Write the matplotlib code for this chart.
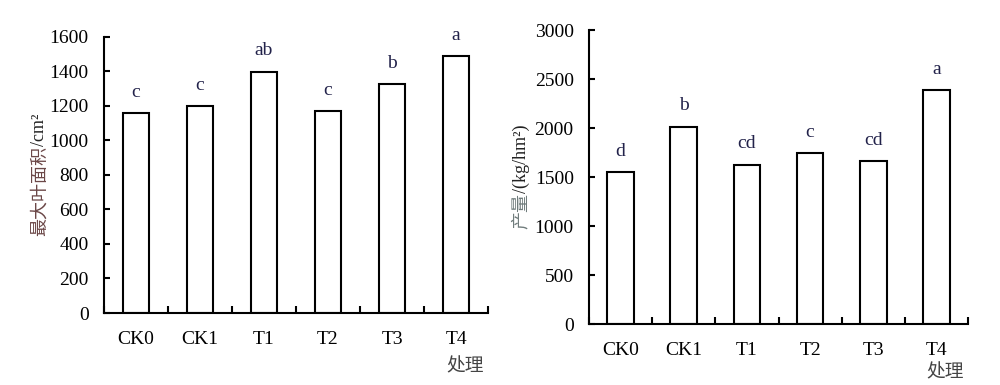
import matplotlib
matplotlib.use("Agg")
import matplotlib.pyplot as plt
import numpy as np

plt.rcParams['font.family'] = ['Liberation Serif', 'Noto Sans CJK SC']

# data
treatments = ['CK0', 'CK1', 'T1', 'T2', 'T3', 'T4']
leaf_area = [1160, 1198, 1398, 1170, 1326, 1490]
leaf_letters = ['c', 'c', 'ab', 'c', 'b', 'a']
yield_vals = [1548, 2013, 1628, 1742, 1663, 2388]
yield_letters = ['d', 'b', 'cd', 'c', 'cd', 'a']

letter_color = '#22224a'
fs = 14


def draw_panel(ax, values, letters, ymax, ystep):
    x = np.arange(len(treatments))
    ax.bar(x, values, width=0.42, color='white', edgecolor='black', linewidth=1.5)
    ax.set_xlim(-0.5, len(treatments) - 0.5)
    ax.set_ylim(0, ymax)
    ax.set_yticks(np.arange(0, ymax + 1, ystep))
    ax.set_xticks(x)
    ax.set_xticklabels(treatments)
    ax.set_xticks(np.arange(-0.5, len(treatments)), minor=True)
    ax.tick_params(axis='x', which='major', length=0, pad=13, labelsize=fs)
    ax.tick_params(axis='x', which='minor', direction='in', length=5, width=1.5)
    ax.tick_params(axis='y', direction='in', length=4.5, width=1.5, pad=11, labelsize=fs)
    for s in ['top', 'right']:
        ax.spines[s].set_visible(False)
    for s in ['left', 'bottom']:
        ax.spines[s].set_linewidth(1.5)
    for xi, v, lt in zip(x, values, letters):
        ax.annotate(lt, (xi, v), xytext=(0, 15), textcoords='offset points',
                    ha='center', va='center', fontsize=fs, color=letter_color)


def two_color_label(fig, xpx, ycenter_px, part1, c1, part2, c2, size):
    renderer = fig.canvas.get_renderer()
    W, H = fig.bbox.width, fig.bbox.height
    t1 = fig.text(xpx / W, 0, part1, rotation=90, ha='center', va='bottom',
                  color=c1, fontsize=size)
    t2 = fig.text(xpx / W, 0, part2, rotation=90, ha='center', va='bottom',
                  color=c2, fontsize=size)
    h1 = t1.get_window_extent(renderer).height
    h2 = t2.get_window_extent(renderer).height
    y0 = (H - ycenter_px) - (h1 + h2) / 2
    t1.set_y(y0 / H)
    t2.set_y((y0 + h1) / H)


fig = plt.figure(figsize=(10, 3.85), dpi=100)
ax1 = fig.add_axes([0.104, 0.187, 0.384, 0.717])
ax2 = fig.add_axes([0.589, 0.158, 0.379, 0.764])

draw_panel(ax1, leaf_area, leaf_letters, 1600, 200)
draw_panel(ax2, yield_vals, yield_letters, 3000, 500)

fig.text(0.465, 1 - 367 / 385, '处理', ha='center', va='center', fontsize=13.5, color='#444444')
fig.text(0.945, 1 - 373 / 385, '处理', ha='center', va='center', fontsize=13.5, color='#444444')

fig.canvas.draw()
two_color_label(fig, 40, 175, '最大叶面积', '#6b4747', '/cm²', '#222222', 13)
two_color_label(fig, 521, 177, '产量', '#6f7b7b', '/(kg/hm²)', '#222222', 13)

fig.savefig('out.png', dpi=100)
